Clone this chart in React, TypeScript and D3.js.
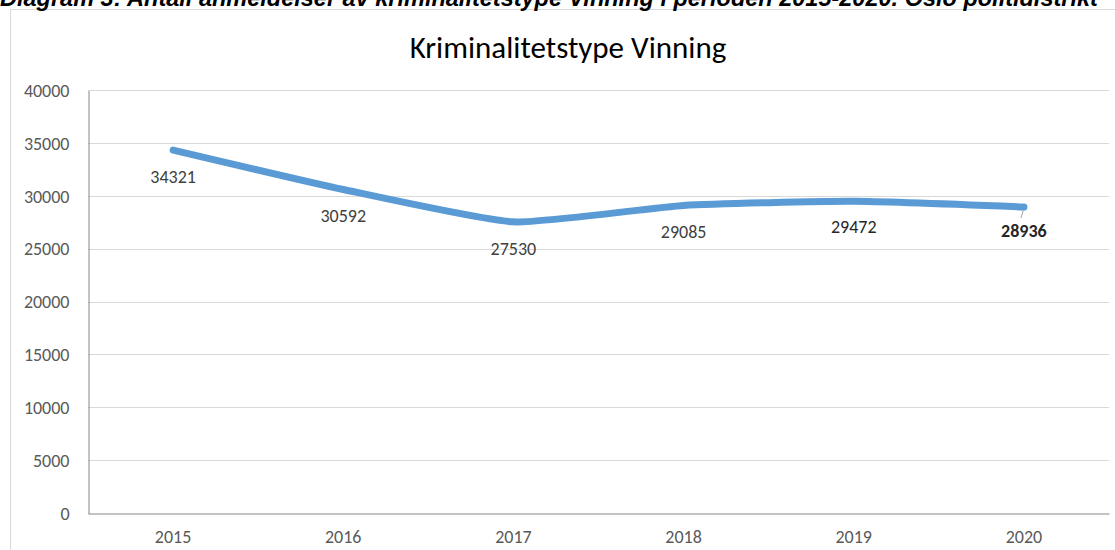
import React, { useEffect, useRef } from 'react';
import * as d3 from 'd3';

const years = ['2015', '2016', '2017', '2018', '2019', '2020'];
const vinning = [34321, 30592, 27530, 29085, 29472, 28936];
const yTicks = [0, 5000, 10000, 15000, 20000, 25000, 30000, 35000, 40000];

const caption = 'Diagram 3: Antall anmeldelser av kriminalitetstype Vinning i perioden 2015-2020. Oslo politidistrikt';
const title = 'Kriminalitetstype Vinning';

// label nudges (px below the point), like Excel's manual placement
const labelDy = [33, 33, 33, 33, 32, 30];

const App = () => {
  const ref = useRef<SVGSVGElement>(null);

  useEffect(() => {
    const svg = d3.select(ref.current);
    svg.selectAll('*').remove();

    const font = 'Carlito, Calibri, Lato, "Open Sans", sans-serif';
    const left = 88, right = 1109, top = 90, bottom = 513;

    // chart frame
    svg.append('rect')
      .attr('x', 10.5).attr('y', 9.5)
      .attr('width', 1200).attr('height', 600)
      .attr('fill', '#fff').attr('stroke', '#d9d9d9');

    // caption, cut off at top
    svg.append('text')
      .attr('x', 0).attr('y', 6)
      .attr('font-family', '"Liberation Sans", Arial, sans-serif')
      .attr('font-size', 23.5).attr('font-weight', 'bold').attr('font-style', 'italic')
      .attr('fill', '#000')
      .text(caption);

    svg.append('text')
      .attr('x', 568).attr('y', 58)
      .attr('text-anchor', 'middle')
      .attr('font-family', font).attr('font-size', 31).attr('fill', '#000')
      .text(title);

    const x = d3.scaleBand().domain(years).range([left, right]);
    const y = d3.scaleLinear().domain([0, 40000]).range([bottom, top]);

    // gridlines
    svg.append('g').selectAll('line')
      .data(yTicks.filter(d => d > 0))
      .enter().append('line')
      .attr('x1', left).attr('x2', right)
      .attr('y1', d => Math.round(y(d)) + 0.5).attr('y2', d => Math.round(y(d)) + 0.5)
      .attr('stroke', '#d9d9d9').attr('stroke-width', 1);

    // y axis
    const yAxis = svg.append('g')
      .attr('transform', `translate(${left + 0.5},0.5)`)
      .call(d3.axisLeft(y).tickValues(yTicks).tickSize(0).tickPadding(19).tickFormat(d => String(d)));
    yAxis.select('.domain').attr('stroke', '#868686');
    yAxis.selectAll('text')
      .attr('font-family', font).attr('font-size', 18).attr('fill', '#595959');

    // x axis
    const xAxis = svg.append('g')
      .attr('transform', `translate(0,${bottom + 0.5})`)
      .call(d3.axisBottom(x).tickSize(0).tickPadding(17));
    xAxis.select('.domain').attr('stroke', '#868686');
    xAxis.selectAll('text')
      .attr('font-family', font).attr('font-size', 18).attr('fill', '#595959');

    const line = d3.line<number>()
      .x((_, i) => (x(years[i]) as number) + x.bandwidth() / 2)
      .y(d => y(d))
      .curve(d3.curveCardinal.tension(0.5));

    svg.append('path')
      .datum(vinning)
      .attr('d', line)
      .attr('fill', 'none')
      .attr('stroke', '#5b9bd5')
      .attr('stroke-width', 7)
      .attr('stroke-linecap', 'round')
      .attr('stroke-linejoin', 'round');

    // leader line for last label
    const lastX = (x(years[5]) as number) + x.bandwidth() / 2;
    svg.append('line')
      .attr('x1', lastX - 0.5).attr('y1', y(vinning[5]) + 3)
      .attr('x2', lastX - 3).attr('y2', y(vinning[5]) + 11)
      .attr('stroke', '#a6a6a6').attr('stroke-width', 1);

    svg.append('g').selectAll('text')
      .data(vinning)
      .enter().append('text')
      .attr('x', (_, i) => (x(years[i]) as number) + x.bandwidth() / 2)
      .attr('y', (d, i) => y(d) + labelDy[i])
      .attr('text-anchor', 'middle')
      .attr('font-family', font).attr('font-size', 18)
      .attr('font-weight', (_, i) => (i === 5 ? 'bold' : 'normal'))
      .attr('fill', (_, i) => (i >= 4 ? '#262626' : '#404040'))
      .text(d => String(d));
  }, []);

  return (
    <svg ref={ref} width={1115} height={550}
      style={{ position: 'absolute', left: 0, top: 0, background: '#fff' }} />
  );
};

export default App;
